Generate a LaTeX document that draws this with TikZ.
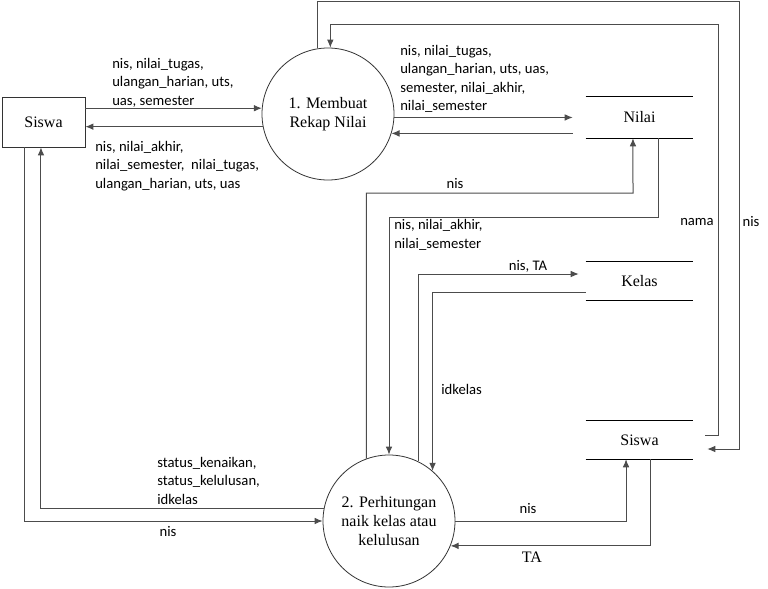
\documentclass[tikz,border=0pt]{standalone}
\usepackage{fontspec}
\setmainfont{Liberation Serif}
\newfontfamily\labelfont{Carlito}
\usepackage{tikz}
\usetikzlibrary{arrows.meta}

\begin{document}
\begin{tikzpicture}[x=0.75pt,y=-0.75pt,
    proc/.style={circle,draw=black!80,line width=0.6pt,minimum size=99pt,inner sep=0pt,align=center,font=\fontsize{12}{14.5}\selectfont},
    entity/.style={rectangle,draw=black!80,line width=0.6pt,minimum width=62.25pt,minimum height=37.5pt,font=\fontsize{12}{14.5}\selectfont},
    storeline/.style={draw=black,line width=0.6pt},
    store/.style={minimum width=80.25pt,minimum height=28.5pt,font=\fontsize{12}{14.5}\selectfont,
      append after command={(\tikzlastnode.north west) edge[storeline] (\tikzlastnode.north east)
        (\tikzlastnode.south west) edge[storeline] (\tikzlastnode.south east)}},
    flow/.style={draw=black!70,line width=0.75pt,-{Latex[length=6pt,width=5pt]}},
    lbl/.style={inner sep=0pt,align=left,font=\labelfont\fontsize{11}{13.9}\selectfont}]
    \useasboundingbox (0,0) rectangle (768,589);
    \node[entity] (siswa) at (43.5,122) {Siswa};
    \node[proc] (rekap) at (328,114) {1. Membuat\\Rekap Nilai};
    \node[proc] (hitung) at (389,521) {2. Perhitungan\\naik kelas atau\\kelulusan};
    \node[store,minimum height=30.75pt] (nilai) at (639.5,117.5) {Nilai};
    \node[store] (kelas) at (639.5,281) {Kelas};
    \node[store] (siswadb) at (639.5,440) {Siswa};

    \draw[flow] (siswa.east |- rekap.175) -- (rekap.175);
    \draw[flow] (rekap.191) -- (siswa.east |- rekap.191);
    \draw[flow,shorten >=9.75pt] (rekap.-3) -- (nilai.west |- rekap.-3);
    \draw[flow,shorten <=9.75pt] (nilai.west |- rekap.-17) -- (rekap.-17);
    \draw[flow] (hitung.110) |- (633,193) -- ([xshift=-4.9pt]nilai.south);
    \draw[flow] ([xshift=13.9pt]nilai.south) |- (389,217) -- (hitung.north);
    \draw[flow,shorten >=5.25pt] (hitung.64) |- ([yshift=5.25pt]kelas.west);
    \draw[flow] ([yshift=-8.25pt]kelas.west) -| (hitung.49);
    \draw[flow] (hitung.east) -| ([xshift=-10.1pt]siswadb.south);
    \draw[flow] ([xshift=7.9pt]siswadb.south) |- (hitung.-22);
    \draw[flow] ([xshift=-14.6pt]siswa.south) |- (hitung.west);
    \draw[flow] (hitung.169) -| ([xshift=-1.9pt]siswa.south);
    \draw[flow] (rekap.99) |- (739,1) |- ([shift={(10.5pt,-6.75pt)}]siswadb.east);
    \draw[flow] ([shift={(9pt,3.75pt)}]siswadb.east) -| (718,24) -| (rekap.88);

    \node[lbl,anchor=west] (lblinput) at (112,82.5) {nis, nilai\_tugas,\\ulangan\_harian, uts,\\uas, semester};
    \node[lbl,anchor=west] (lblrekap) at (95,166) {nis, nilai\_akhir,\\nilai\_semester,~ nilai\_tugas,\\ulangan\_harian, uts, uas};
    \node[lbl,anchor=west] (lblsimpan) at (400,79) {nis, nilai\_tugas,\\ulangan\_harian, uts, uas,\\semester, nilai\_akhir,\\nilai\_semester};
    \node[lbl] (lblnisnilai) at (455,184) {nis};
    \node[lbl,anchor=west] (lblambil) at (394,235) {nis, nilai\_akhir,\\nilai\_semester};
    \node[lbl] (lblnama) at (697,222) {nama};
    \node[lbl] (lblnissiswa) at (751,222) {nis};
    \node[lbl] (lblnista) at (528,266) {nis, TA};
    \node[lbl,anchor=west] (lblidkelas) at (441,389) {idkelas};
    \node[lbl,anchor=west] (lblstatus) at (157,480.5) {status\_kenaikan,\\status\_kelulusan,\\idkelas};
    \node[lbl] (lblnisin) at (168,532) {nis};
    \node[lbl] (lblnisout) at (528,509) {nis};
    \node[inner sep=0pt,font=\fontsize{12}{14.5}\selectfont] (lblta) at (532,557) {TA};
\end{tikzpicture}
\end{document}
